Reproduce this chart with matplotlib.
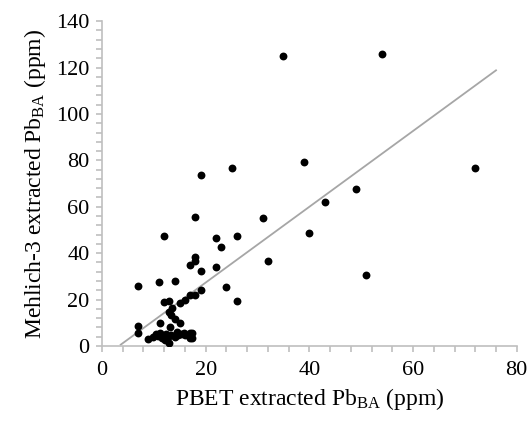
import numpy as np
import matplotlib
matplotlib.use("Agg")
import matplotlib.pyplot as plt
from matplotlib.ticker import MultipleLocator

plt.rcParams['font.family'] = ['Liberation Serif', 'DejaVu Serif']
plt.rcParams['mathtext.fontset'] = 'custom'
plt.rcParams['mathtext.rm'] = 'Liberation Serif'
plt.rcParams['mathtext.it'] = 'Liberation Serif:italic'
plt.rcParams['mathtext.bf'] = 'Liberation Serif:bold'

# PBET extracted Pb (x) vs Mehlich-3 extracted Pb (y), ppm
pbet = [35, 54, 72, 39, 25, 19, 49, 43, 31, 40, 26, 22, 23, 18, 12,
        32, 22, 18, 18, 17, 19, 51, 24, 26, 19, 18, 17,
        16, 15, 13, 12, 11, 14, 7, 7, 7,
        13, 13.3, 14.1, 15, 11.2, 13.1, 13.5,
        8.9, 9.9, 10.8, 11.5, 12.1, 12.8, 13.4, 14.1, 14.7, 15.3, 16.0,
        16.9, 16.9, 12.9, 11.2, 12.3, 17.3, 17.3, 10.5, 14.5, 15.8]
mehlich = [125, 126, 76.5, 79.5, 76.5, 73.5, 67.5, 62, 55, 48.5, 47.5, 46.5, 42.5, 55.5, 47.5,
           36.5, 34, 38.5, 36.8, 35, 32.3, 30.8, 25.3, 19.3, 24.2, 22.2, 22.0,
           19.8, 18.5, 19.2, 19.0, 27.8, 28.2, 26.0, 8.8, 5.5,
           14.8, 13.2, 11.5, 9.8, 10.1, 8.1, 16.5,
           2.9, 3.7, 4.3, 3.3, 2.6, 3.7, 4.7, 4.0, 4.7, 5.2, 4.7,
           5.5, 3.3, 1.2, 5.5, 5.2, 5.5, 3.3, 5.0, 6.0, 5.8]

x_ticks = [0, 20, 40, 60, 80]
y_ticks = [0, 20, 40, 60, 80, 100, 120, 140]

fig = plt.figure(figsize=(5.30, 4.22), dpi=100)
ax = fig.add_axes([0.1925, 0.180, 0.7825, 0.770])

ax.scatter(pbet, mehlich, s=32, color='black', zorder=3, linewidths=0)

coef = np.polyfit(pbet, mehlich, 1)
xl = np.array([3.6, 76.0])
ax.plot(xl, np.polyval(coef, xl), color='#A6A6A6', lw=1.3, zorder=2)

ax.set_xlim(0, 80)
ax.set_ylim(0, 140)
ax.set_xticks(x_ticks)
ax.set_yticks(y_ticks)
ax.xaxis.set_minor_locator(MultipleLocator(4))
ax.yaxis.set_minor_locator(MultipleLocator(4))

for s in ['top', 'right']:
    ax.spines[s].set_visible(False)
for s in ['left', 'bottom']:
    ax.spines[s].set_color('#BFBFBF')
    ax.spines[s].set_linewidth(1.2)

ax.tick_params(which='both', direction='out', color='#BFBFBF', width=1.2,
               labelsize=16, labelcolor='black')
ax.tick_params(which='major', length=4)
ax.tick_params(which='minor', length=4)
ax.tick_params(axis='x', which='major', pad=7)
ax.tick_params(axis='y', which='major', pad=5)

ax.set_xlabel(r'PBET extracted Pb$_{\mathrm{BA}}$ (ppm)', fontsize=17, labelpad=4)
ax.set_ylabel(r'Mehlich-3 extracted Pb$_{\mathrm{BA}}$ (ppm)', fontsize=17, labelpad=6)

fig.savefig('out.png', dpi=100)
